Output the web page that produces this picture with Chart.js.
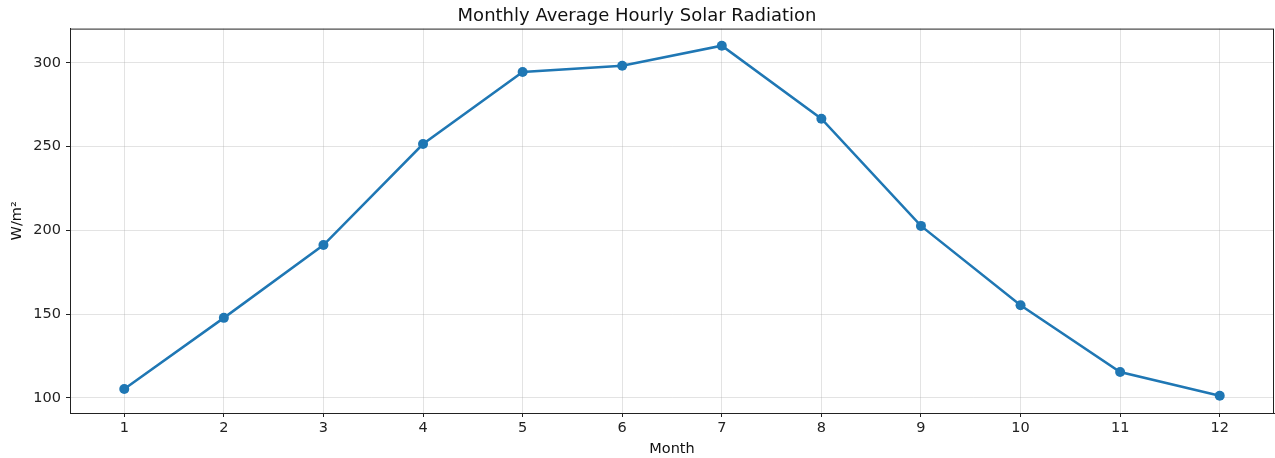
<!DOCTYPE html>
<html>
<head>
<meta charset="utf-8">
<script src="https://cdn.jsdelivr.net/npm/chart.js@4.4.1/dist/chart.umd.min.js"></script>
<style>
  html, body { margin: 0; padding: 0; background: #fff; }
  #chart { display: block; }
</style>
</head>
<body>
<canvas id="chart" width="1275" height="458"></canvas>
<script>
// data
var months = [1, 2, 3, 4, 5, 6, 7, 8, 9, 10, 11, 12];
var radiation = [105.3, 147.8, 191.3, 251.6, 294.6, 298.3, 310.3, 266.7, 202.7, 155.3, 115.5, 101.3];
var yTicks = [100, 150, 200, 250, 300];

var font = "'DejaVu Sans', sans-serif";
var blue = "#1f77b4";

// frame round the plot, like matplotlib's spines
var frame = {
  id: "frame",
  afterDraw: function (chart) {
    var a = chart.chartArea;
    var c = chart.ctx;
    c.save();
    c.strokeStyle = "#222";
    c.lineWidth = 1;
    c.strokeRect(a.left + 0.5, a.top + 0.5, a.right - a.left - 1, a.bottom - a.top);
    c.restore();
  }
};

var ctx = document.getElementById("chart").getContext("2d");
var chart = new Chart(ctx, {
  type: "line",
  data: {
    datasets: [
      {
        label: "Radiation",
        data: months.map(function (m, i) { return { x: m, y: radiation[i] }; }),
        borderColor: blue,
        backgroundColor: blue,
        borderWidth: 2.5,
        pointRadius: 5,
        pointHoverRadius: 5,
        pointBorderWidth: 0,
        tension: 0,
      },
    ],
  },
  plugins: [frame],
  options: {
    responsive: false,
    animation: false,
    layout: { autoPadding: false, padding: { left: 0, right: 1, top: 0, bottom: 0 } },
    plugins: {
      legend: { display: false },
      tooltip: { enabled: false },
      title: {
        display: true,
        text: "Monthly Average Hourly Solar Radiation",
        color: "#111",
        font: { family: font, size: 18, weight: "normal", lineHeight: 1.2 },
        padding: { top: 6, bottom: 1 },
      },
    },
    scales: {
      x: {
        type: "linear",
        min: 0.455,
        max: 12.545,
        afterBuildTicks: function (axis) {
          axis.ticks = months.map(function (m) { return { value: m }; });
        },
        afterFit: function (axis) {
          axis.height = 45;
          axis.paddingRight = 0;
          axis.paddingLeft = 0;
        },
        ticks: {
          color: "#222",
          font: { family: font, size: 14.5 },
          padding: 3,
          maxRotation: 0,
        },
        grid: {
          color: "rgba(176,176,176,0.35)",
          tickColor: "#222",
          tickLength: 4,
        },
        border: { color: "#222" },
        title: {
          display: true,
          text: "Month",
          color: "#111",
          font: { family: font, size: 14.5 },
          padding: { top: 0, bottom: 0 },
        },
      },
      y: {
        min: 91,
        max: 320.5,
        afterBuildTicks: function (axis) {
          axis.ticks = yTicks.map(function (v) { return { value: v }; });
        },
        afterFit: function (axis) { axis.width = 70; },
        ticks: {
          color: "#222",
          font: { family: font, size: 14.5 },
          padding: 5,
        },
        grid: {
          color: "rgba(176,176,176,0.35)",
          tickColor: "#222",
          tickLength: 4,
        },
        border: { color: "#222" },
        title: {
          display: true,
          text: "W/m²",
          color: "#111",
          font: { family: font, size: 14.5 },
          padding: { top: 9, bottom: 0 },
        },
      },
    },
  },
});
</script>
</body>
</html>
